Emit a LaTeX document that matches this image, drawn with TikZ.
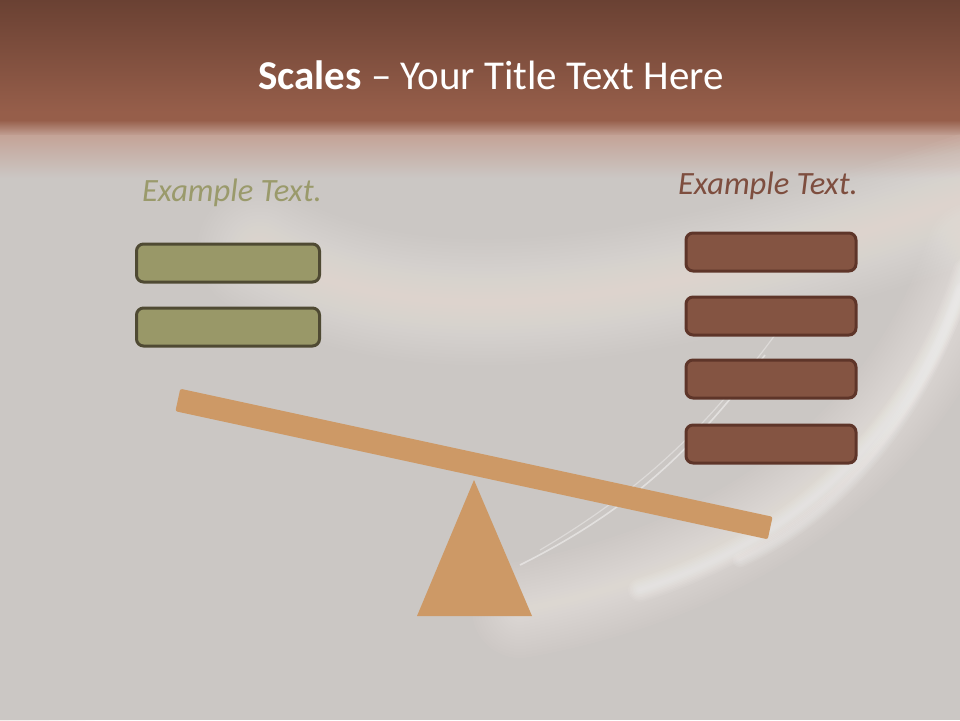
\documentclass[tikz,border=0pt]{standalone}
\usepackage{fontspec}
\setmainfont{Carlito}
\usetikzlibrary{shapes.geometric}
\definecolor{bg}{HTML}{CBC7C4}
\definecolor{hdtop}{HTML}{6A4133}
\definecolor{hdbot}{HTML}{965E4A}
\definecolor{hdfade}{HTML}{C4A397}
\definecolor{glow}{HTML}{F4EAE4}
\definecolor{pinkish}{HTML}{DCCEC9}
\definecolor{olivefill}{HTML}{999868}
\definecolor{olivedraw}{HTML}{4F4A33}
\definecolor{olivetext}{HTML}{9A9A6B}
\definecolor{brownfill}{HTML}{845442}
\definecolor{browndraw}{HTML}{5E3529}
\definecolor{browntext}{HTML}{7E4E3F}
\definecolor{wood}{HTML}{CD9966}
\tikzset{
  lbox/.style={draw=olivedraw, fill=olivefill, line width=3pt, rounded corners=7pt, minimum width=183pt, minimum height=38pt, inner sep=0pt},
  rbox/.style={draw=browndraw, fill=brownfill, line width=3pt, rounded corners=7pt, minimum width=170pt, minimum height=38pt, inner sep=0pt},
  exlabel/.style={font=\fontsize{32.5}{38}\selectfont\itshape, inner sep=0pt},
  beam/.style={fill=wood, rounded corners=2pt, minimum width=606pt, minimum height=23pt, inner sep=0pt},
}
\begin{document}
\begin{tikzpicture}[x=1pt,y=-1pt]
\useasboundingbox (0,0) rectangle (960,720);
% background
\fill[bg] (0,0) rectangle (960,720);
% header
\shade[top color=hdtop, bottom color=hdbot] (0,0) rectangle (960,112);
\fill[hdbot] (0,111) rectangle (960,121);
\shade[top color=hdbot, bottom color=hdfade] (0,120) rectangle (960,136);
\shade[top color=hdfade, bottom color=bg] (0,135) rectangle (960,178);
\begin{scope}
\clip (0,128) rectangle (960,720);
% pinkish lower left
\foreach \i in {1,...,24}{
  \fill[pinkish, opacity=0.04] (-80,600) ellipse ({8*\i pt} and {12*\i pt});
}
% upper soft glow band
\foreach \i in {1,...,18}{
  \draw[glow, line width={7*\i pt}, opacity=0.045, line cap=round] (260,250) .. controls (420,340) and (650,310) .. (990,190);
}
% lower glow band
\foreach \i in {1,...,16}{
  \draw[glow, line width={6*\i pt}, opacity=0.05, line cap=round] (520,610) .. controls (740,570) and (910,450) .. (975,250);
}
\foreach \i in {1,...,8}{
  \draw[white, line width={3*\i pt}, opacity=0.06, line cap=round] (640,590) .. controls (800,540) and (915,430) .. (965,270);
}
\foreach \i in {1,...,5}{
  \draw[white, line width={3*\i pt}, opacity=0.07, line cap=round] (740,560) .. controls (830,520) and (915,430) .. (962,290);
}
\draw[white, line width=1.6pt, opacity=0.45] (520,565) .. controls (640,505) and (700,440) .. (765,355);
\draw[white, line width=1.2pt, opacity=0.35] (540,550) .. controls (650,485) and (712,420) .. (775,335);
\end{scope}
\node[text=white, font=\fontsize{41}{48}\selectfont, inner sep=0pt] (title) at (491,75) {\textbf{Scales} – Your Title Text Here};
% labels
\node[exlabel, text=olivetext] (ltext) at (232,193) {Example Text.};
\node[exlabel, text=browntext] (rtext) at (768,186) {Example Text.};
% left boxes
\node[lbox] (l1) at (228,263) {};
\node[lbox] (l2) at (228,327) {};
% right boxes
\node[rbox] (r1) at (771,252) {};
\node[rbox] (r2) at (771,316) {};
\node[rbox] (r3) at (771,379) {};
\node[rbox] (r4) at (771,444) {};
% fulcrum
\fill[wood] (474,480) -- (532,616) -- (417,616) -- cycle;
% beam
\node[beam, rotate=-12.2] (bar) at (474,464) {};
\end{tikzpicture}
\end{document}
